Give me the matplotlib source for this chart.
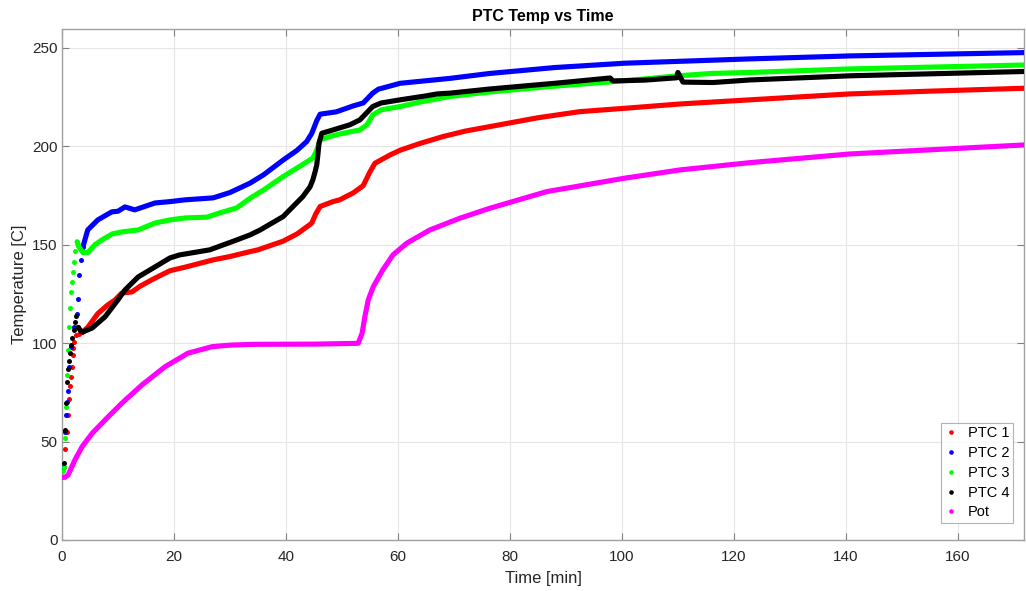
import matplotlib
matplotlib.use("Agg")
import matplotlib.pyplot as plt
from matplotlib.lines import Line2D

plt.rcParams['font.family'] = ['Liberation Sans', 'DejaVu Sans']

# ---- data ----
t_ptc1 = [0.4, 0.6, 0.9, 1.1, 1.25, 1.4, 1.6, 1.75, 1.9, 2.05, 2.2, 2.5, 3.0, 3.6, 4.6, 6.4,
          8.0, 9.5, 10.7, 12.5, 14.0, 16.6, 19.3, 22.0, 27.0, 30.0, 33.6, 35.0, 39.5, 42.0,
          44.6, 45.3, 46.1, 48.4, 49.6, 52.0, 53.8, 55.0, 55.9, 58.6, 60.4, 64.0, 68.0, 72.0,
          76.4, 85.0, 92.5, 100.5, 110.4, 122.9, 140.7, 155.0, 172.0]
T_ptc1 = [37, 46, 55, 63.5, 71.6, 78, 83, 88, 94, 97.5, 100.7, 104, 104.5, 105.5, 108, 115,
          119, 122, 125.5, 126, 129, 133, 136.8, 138.6, 142.3, 144, 146.5, 147.4, 151.8, 155.5,
          160.9, 165.5, 169.4, 171.9, 172.8, 176.3, 180, 187, 191.4, 195.6, 198, 201.5, 204.9, 207.7,
          210, 214.5, 217.6, 219.3, 221.5, 223.6, 226.6, 228.0, 229.5]

t_ptc2 = [0.2, 0.5, 0.71, 0.89, 1.0, 1.25, 1.6, 2.14, 2.68, 2.86, 3.04, 3.39, 3.75, 4.6, 6.4,
          8.9, 10.0, 11.25, 13.0, 16.6, 19.3, 22.0, 27.0, 30.0, 33.6, 36.0, 39.5, 42.0, 43.7,
          44.6, 45.5, 46.1, 49.0, 52.0, 53.8, 55.5, 56.5, 60.4, 69.3, 76.4, 88.0, 100.5, 122.9,
          140.7, 172.0]
T_ptc2 = [37, 55, 63.5, 70, 75.7, 88, 98, 108, 115, 122.5, 134.6, 142, 149, 157.5, 162.6,
          166.7, 167, 169.2, 167.7, 171.2, 171.9, 172.8, 173.8, 176.5, 181.3, 185.5, 193, 198, 202.4,
          206.5, 213, 216.3, 217.5, 220.5, 222, 227, 229, 232, 234.5, 237, 240, 242.2, 244.4,
          245.9, 247.6]

t_ptc3 = [0.2, 0.4, 0.5, 0.7, 0.9, 1.1, 1.25, 1.4, 1.6, 1.8, 2.0, 2.1, 2.3, 2.7, 3.0, 3.75,
          4.6, 5.9, 7.1, 9.0, 10.7, 13.6, 16.6, 19.3, 22.0, 25.9, 28.0, 31.2, 33.6, 36.0, 39.5,
          42.0, 44.8, 45.5, 46.1, 47.9, 50.0, 53.2, 54.5, 55.5, 57.0, 60.4, 64.0, 69.3, 76.4, 87.0,
          97.9, 104.0, 110.0, 116.0, 122.9, 140.7, 172.0]
T_ptc3 = [35, 37, 52, 67.6, 84, 96.5, 108, 117.9, 126, 131, 136, 141, 147, 151.5, 149, 146,
          146, 150, 152.4, 155.5, 156.5, 157.5, 161, 162.6, 163.6, 164, 166, 168.7, 173.6, 177.8, 184.6,
          189, 194, 198, 203.3, 205, 206.5, 208.3, 211, 215.9, 218.5, 220.2, 222.5, 225.3, 227.6, 230.3,
          232.7, 234.2, 235.8, 237, 237.5, 239.3, 241.3]

t_ptc4 = [0.36, 0.5, 0.7, 0.9, 1.1, 1.25, 1.4, 1.6, 1.8, 2.1, 2.3, 2.5, 2.9, 3.4, 3.75, 5.4,
          7.7, 10.0, 11.25, 13.6, 16.6, 19.3, 21.0, 26.4, 31.2, 33.6, 35.4, 39.5, 43.0, 44.3,
          44.8, 45.2, 45.5, 45.7, 45.9, 46.4, 48.4, 51.4, 53.2, 55.5, 57.0, 60.4, 65.0, 67.0,
          69.3, 76.4, 88.0, 97.9, 98.4, 104.0, 109.8, 110.0, 110.9, 116.3, 122.9, 140.7, 172.0]
T_ptc4 = [39, 55.9, 69.7, 80.4, 86.8, 91, 95, 99, 102.5, 106.7, 110.8, 113.8, 108, 106, 105.7, 107.7,
          113.4, 122, 127, 133.6, 138.7, 143.3, 144.8, 147.4, 152.4, 155, 157.5, 164.3, 174.4, 179.4,
          182.9, 187, 190.5, 195.6, 201.5, 206.6, 208.3, 210.9, 213.4, 220.2, 222, 223.6, 225.6, 226.6,
          227, 229.1, 232, 234.7, 233.2, 233.6, 234.8, 237.5, 232.6, 232.4, 233.7, 235.8, 238]

t_pot = [0.0, 0.5, 1.1, 2.3, 3.6, 5.4, 7.7, 10.7, 14.3, 18.4, 22.5, 26.8, 30.0, 34.5, 45.0,
         52.9, 53.6, 54.1, 54.7, 55.6, 57.3, 59.1, 61.6, 65.7, 71.1, 76.4, 86.6, 100.5, 110.4,
         122.9, 140.7, 172.0]
T_pot = [32, 31.8, 33, 40.6, 47.4, 54.2, 61, 69.5, 78.8, 88, 94.9, 98.2, 99, 99.4, 99.5,
         99.9, 105, 113.5, 122, 128.7, 137.2, 144.8, 150.8, 157.5, 163.5, 168.5, 177, 183.8, 188,
         191.7, 196.1, 200.7]

# time after which the samples are dense enough to merge into a solid trace
t_dense = [3.4, 3.5, 2.6, 2.8, 0.0]

series = [("PTC 1", t_ptc1, T_ptc1, "#ff0000"),
          ("PTC 2", t_ptc2, T_ptc2, "#0000ff"),
          ("PTC 3", t_ptc3, T_ptc3, "#00ff00"),
          ("PTC 4", t_ptc4, T_ptc4, "#000000"),
          ("Pot", t_pot, T_pot, "#ff00ff")]

xticks = [0, 20, 40, 60, 80, 100, 120, 140, 160]
yticks = [0, 50, 100, 150, 200, 250]

fig = plt.figure(figsize=(10.26, 5.91), dpi=100)
ax = fig.add_axes([0.0604, 0.0863, 0.9376, 0.8647])

handles = []
for (name, t, T, c), td in zip(series, t_dense):
    i0 = next(i for i, v in enumerate(t) if v >= td)
    ax.plot(t[i0:], T[i0:], '-', color=c, lw=3.7, solid_capstyle='round',
            solid_joinstyle='round', zorder=3)
    ax.plot(t[:i0 + 1], T[:i0 + 1], 'o', color=c, ms=3.6, mew=0, zorder=3)
    handles.append(Line2D([], [], marker='o', ls='none', color=c, ms=3.3, mew=0, label=name))

ax.set_xlim(0, 171.8)
ax.set_ylim(0, 259.6)
ax.set_xticks(xticks)
ax.set_yticks(yticks)
edge = '#262626'
for s in ax.spines.values():
    s.set_color('#a0a0a0')
    s.set_linewidth(1.0)
ax.tick_params(direction='in', length=5, width=0.8, colors='#808080', labelcolor=edge,
               labelsize=11, top=True, right=True, pad=3)
ax.tick_params(axis='x', pad=7)
ax.grid(True, color='#e6e6e6', lw=0.8, zorder=0)
ax.set_axisbelow(True)

ax.set_title("PTC Temp vs Time", fontsize=11.5, fontweight='bold', color='#000000', pad=6)
ax.set_xlabel("Time [min]", fontsize=12, color=edge, labelpad=5)
ax.set_ylabel("Temperature [C]", fontsize=12, color=edge, labelpad=4)

leg = ax.legend(handles=handles, loc='lower right', bbox_to_anchor=(0.9885, 0.033),
                fontsize=10.5, frameon=True, fancybox=False, handlelength=0.9,
                handletextpad=0.7, borderpad=0.25, labelspacing=0.4, borderaxespad=0)
leg.get_frame().set_edgecolor('#a0a0a0')
leg.get_frame().set_linewidth(0.8)

fig.savefig("out.png", dpi=100)
